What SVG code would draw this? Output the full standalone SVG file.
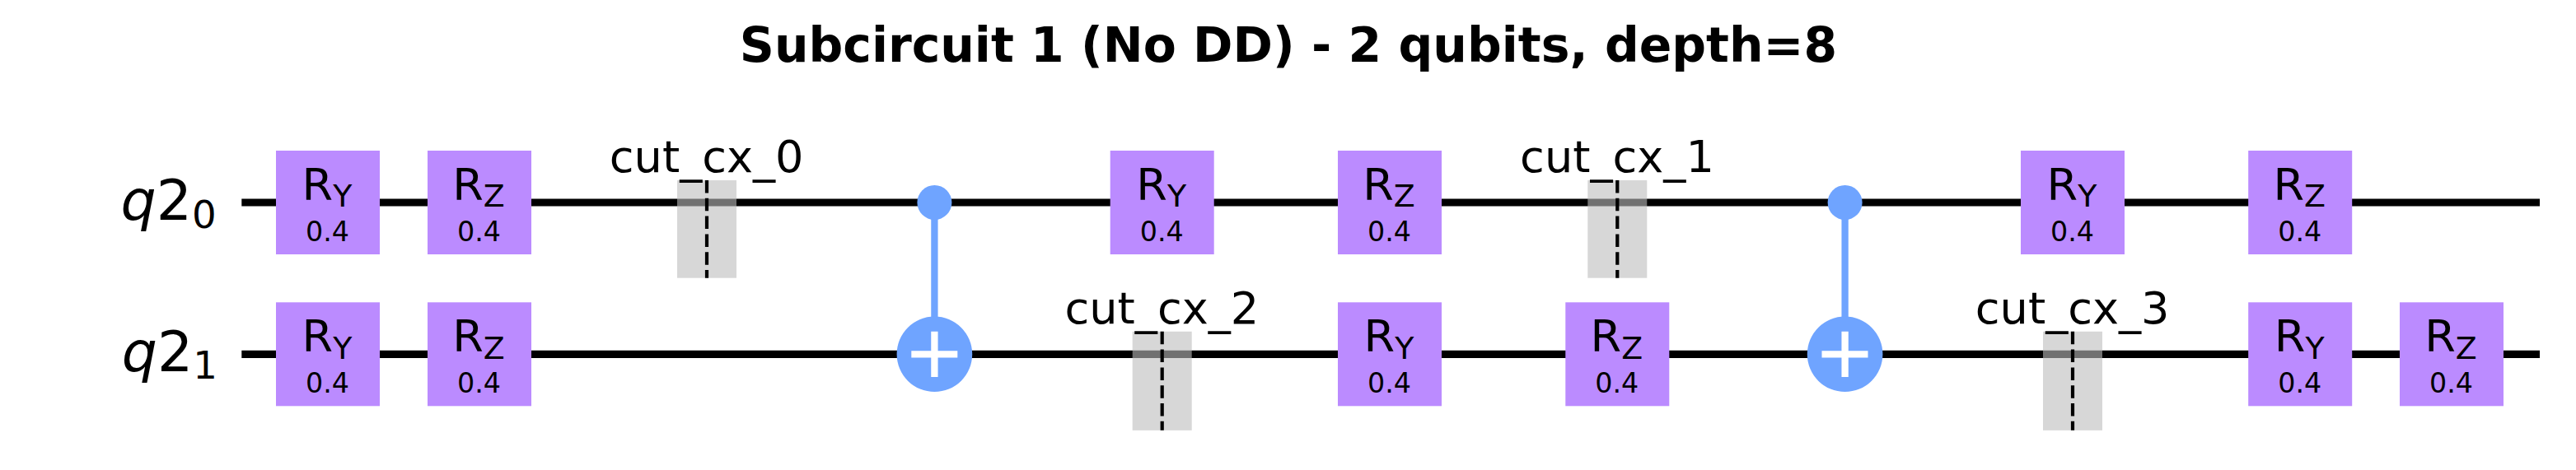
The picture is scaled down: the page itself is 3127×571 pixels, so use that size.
<svg xmlns="http://www.w3.org/2000/svg" width="3127" height="571" viewBox="0 0 3127 571">
<style>
text{font-family:"DejaVu Sans",sans-serif;fill:#000}
.wire{stroke:#000;stroke-width:9.2;fill:none}
.gate{fill:#bb8bff}
.g{font-size:54.17px;text-anchor:middle}
.s{font-size:37.9px}
.p{font-size:33.33px;text-anchor:middle}
.lab{font-size:54.17px;text-anchor:middle}
.shade{fill:#bdbdbd;fill-opacity:.6}
.dash{stroke:#000;stroke-width:4.2;stroke-dasharray:15.5 6.3;fill:none}
.cx{fill:#6fa4ff}
.cxl{stroke:#6fa4ff;stroke-width:8.3;fill:none}
.plus{stroke:#fff;stroke-width:8.3;fill:none}
.q{font-size:68px}
.qs{font-size:46.67px}
</style>
<defs>
<g id="ry"><rect class="gate" x="-63" y="-63" width="126" height="126"/><text class="g" x="-1" y="-3">R<tspan class="s" dy="8.4">Y</tspan></text><text class="p" x="-0.5" y="46.5">0.4</text></g>
<g id="rz"><rect class="gate" x="-63" y="-63" width="126" height="126"/><text class="g" x="-1" y="-3">R<tspan class="s" dy="8.4">Z</tspan></text><text class="p" x="-0.5" y="46.5">0.4</text></g>
</defs>
<text id="title" x="1564" y="75" text-anchor="middle" font-weight="bold" font-size="58.4px">Subcircuit 1 (No DD) - 2 qubits, depth=8</text>
<g id="connectors">
<line class="wire" x1="293.3" y1="246" x2="3083" y2="246"/>
<line class="wire" x1="293.3" y1="430.3" x2="3083" y2="430.3"/>
<line class="cxl" x1="1134.4" y1="246" x2="1134.4" y2="430"/>
<line class="cxl" x1="2239.6" y1="246" x2="2239.6" y2="430"/>
</g>
<g id="label-q0"><text x="146.6" y="267" class="q"><tspan font-style="italic">q</tspan>2<tspan class="qs" dy="10">0</tspan></text></g>
<g id="label-q1"><text x="147.8" y="451" class="q"><tspan font-style="italic">q</tspan>2<tspan class="qs" dy="9.4">1</tspan></text></g>
<use id="g1" href="#ry" x="398" y="246"/>
<use id="g2" href="#rz" x="582" y="246"/>
<use id="g3" href="#ry" x="1410.7" y="246"/>
<use id="g4" href="#rz" x="1687" y="246"/>
<use id="g5" href="#ry" x="2516" y="246"/>
<use id="g6" href="#rz" x="2792.2" y="246"/>
<use id="g7" href="#ry" x="398" y="430.3"/>
<use id="g8" href="#rz" x="582" y="430.3"/>
<use id="g9" href="#ry" x="1687" y="430.3"/>
<use id="g10" href="#rz" x="1963.3" y="430.3"/>
<use id="g11" href="#ry" x="2792.2" y="430.3"/>
<use id="g12" href="#rz" x="2976" y="430.3"/>
<g id="cut0"><rect class="shade" x="822" y="219" width="72" height="118.7"/><line class="dash" x1="858" y1="219" x2="858" y2="337.7"/><text class="lab" x="857.7" y="209.3">cut_cx_0</text></g>
<g id="cut1"><rect class="shade" x="1927.3" y="219" width="72" height="118.7"/><line class="dash" x1="1963.3" y1="219" x2="1963.3" y2="337.7"/><text class="lab" x="1963" y="209.3">cut_cx_1</text></g>
<g id="cut2"><rect class="shade" x="1374.7" y="402.8" width="72" height="120"/><line class="dash" x1="1410.7" y1="402.8" x2="1410.7" y2="522.8"/><text class="lab" x="1410.4" y="393">cut_cx_2</text></g>
<g id="cut3"><rect class="shade" x="2480" y="402.8" width="72" height="120"/><line class="dash" x1="2516" y1="402.8" x2="2516" y2="522.8"/><text class="lab" x="2515.7" y="393">cut_cx_3</text></g>
<g id="cx0"><circle class="cx" cx="1134.4" cy="246" r="21"/><circle class="cx" cx="1134.4" cy="430.3" r="45.8"/><path class="plus" d="M1134.4 402.7V458M1106.3 430.3H1162.3"/></g>
<g id="cx1"><circle class="cx" cx="2239.6" cy="246" r="21"/><circle class="cx" cx="2239.6" cy="430.3" r="45.8"/><path class="plus" d="M2239.6 402.7V458M2211.5 430.3H2267.5"/></g>
</svg>
